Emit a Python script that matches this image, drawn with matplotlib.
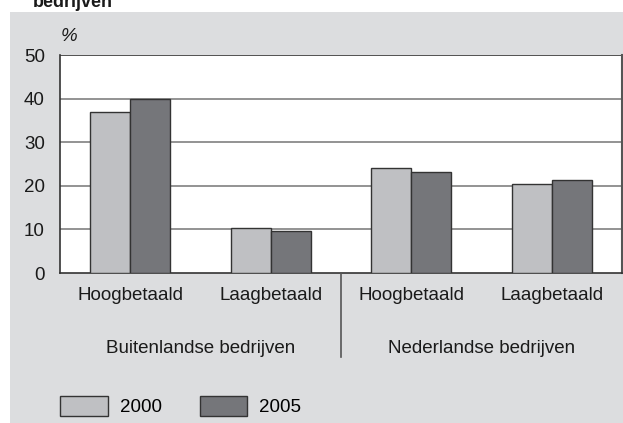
import matplotlib
matplotlib.use("Agg")
import matplotlib.pyplot as plt
from matplotlib.patches import Rectangle
import numpy as np

plt.rcParams['font.family'] = ['Liberation Sans', 'DejaVu Sans']

categories = ["Hoogbetaald", "Laagbetaald", "Hoogbetaald", "Laagbetaald"]
groups = ["Buitenlandse bedrijven", "Nederlandse bedrijven"]
series_names = ["2000", "2005"]
values_2000 = [36.9, 10.4, 24.0, 20.3]
values_2005 = [40.0, 9.7, 23.1, 21.4]
yticks = [0, 10, 20, 30, 40, 50]

W, H = 623, 423
FS = 13.5
fig = plt.figure(figsize=(W / 100, H / 100), dpi=100, facecolor="white")

# gray panel background
fig.patches.append(Rectangle((10 / W, 0), 1 - 10 / W, (H - 12) / H,
                             transform=fig.transFigure, facecolor="#dcdddf",
                             edgecolor="none", zorder=-5))

# cut-off title
fig.text(33 / W, (H - 7) / H, "bedrijven", fontsize=13, fontweight="bold",
         color="#1a1a1a", ha="left", va="baseline")

ax = fig.add_axes([60 / W, (H - 273) / H, (622 - 60) / W, (273 - 55) / H])
ax.set_facecolor("white")

x = np.arange(len(categories))
bw = 0.285
c2000 = "#bfc0c3"
c2005 = "#75767a"
b1 = ax.bar(x - bw / 2, values_2000, bw, color=c2000, edgecolor="#333333",
            linewidth=1, zorder=3, label=series_names[0])
b2 = ax.bar(x + bw / 2, values_2005, bw, color=c2005, edgecolor="#333333",
            linewidth=1, zorder=3, label=series_names[1])

ax.set_xlim(-0.5, len(categories) - 0.5)
ax.set_ylim(0, 50)
ax.set_yticks(yticks)
ax.set_yticklabels([str(t) for t in yticks], fontsize=FS, color="#1a1a1a")
for t in yticks[1:-1]:
    ax.axhline(t, color="#808080", linewidth=1.2, zorder=1)
ax.axhline(50, color="#333333", linewidth=1.2, zorder=1)

ax.tick_params(axis="y", length=0, pad=11)
ax.set_xticks(x)
ax.set_xticklabels(categories, fontsize=FS, color="#1a1a1a")
ax.tick_params(axis="x", length=0, pad=10)

for s in ["left", "bottom"]:
    ax.spines[s].set_color("#333333")
    ax.spines[s].set_linewidth(1.2)
ax.spines["top"].set_visible(False)
ax.spines["right"].set_color("#555555")
ax.spines["right"].set_linewidth(1.5)

ax.text(0.002, 1.064, "%", transform=ax.transAxes, fontsize=FS,
        color="#1a1a1a", ha="left", va="baseline", style="italic")

# group separator and group labels
ax.plot([1.5, 1.5], [0, -19.3], color="#555555", linewidth=1.2,
        clip_on=False, zorder=4)
for gi, g in enumerate(groups):
    ax.text(gi * 2 + 0.5, -18.35, g, fontsize=FS, color="#1a1a1a",
            ha="center", va="baseline")

fig.legend(handles=[b1, b2], labels=series_names, loc="lower left",
           bbox_to_anchor=(60 / W, (H - 416) / H), ncol=2, frameon=False,
           fontsize=FS, handlelength=2.55, handleheight=1.3,
           handletextpad=0.65, columnspacing=2.0, borderpad=0,
           borderaxespad=0)

fig.savefig("out.png", dpi=100, facecolor="white")
